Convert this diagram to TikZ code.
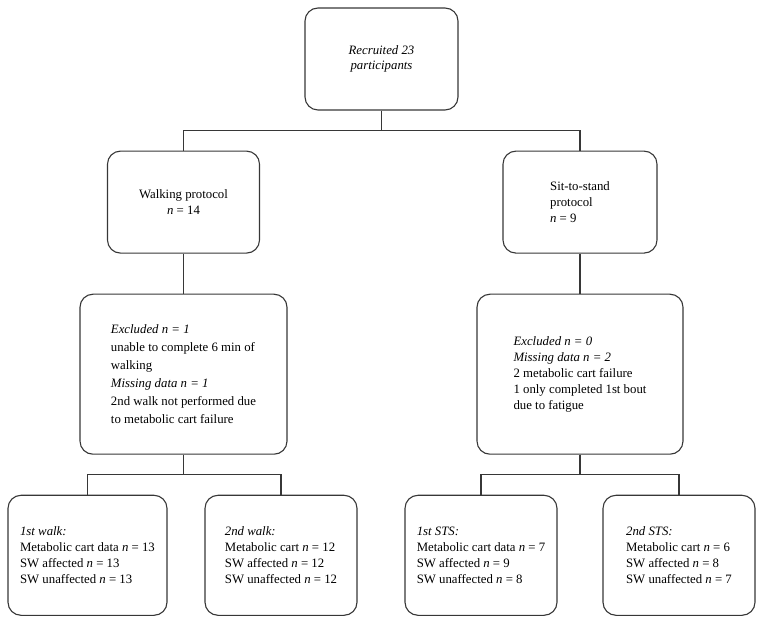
\documentclass[tikz,border=0pt]{standalone}
\usepackage{fontspec}
\setmainfont{Liberation Serif}
\usepackage{tikz}
\usetikzlibrary{positioning}
\definecolor{linegray}{RGB}{55,55,55}

\begin{document}
\begin{tikzpicture}[
  x=1pt, y=1pt,
  box/.style={rectangle, draw=linegray, line width=1.1pt, rounded corners=13pt, minimum width=152pt, minimum height=102pt, align=center, inner sep=4pt, font=\fontsize{12.8}{16}\selectfont},
  leftbox/.style={box, align=left},
  link/.style={draw=linegray, line width=1.1pt},
  node distance=40pt
]
\useasboundingbox (0,0) rectangle (764,-620);

\node[box, minimum width=153pt, font=\fontsize{12.8}{15}\selectfont] (recruit) at (381.5,-59) {\textit{Recruited 23}\\\textit{participants}};
\node[box, below=of recruit, xshift=-198pt] (walk) {Walking protocol\\\textit{n} = 14};
\node[leftbox, minimum width=154pt, below=of recruit, xshift=198.5pt] (sts) {Sit-to-stand\\protocol\\\textit{n} = 9};

\node[leftbox, minimum width=207pt, minimum height=160pt, below=of walk, font=\fontsize{12.8}{18}\selectfont] (walkex) {\textit{Excluded n = 1}\\unable to complete 6 min of\\walking\\\textit{Missing data n = 1}\\2nd walk not performed due\\to metabolic cart failure};
\node[leftbox, minimum width=206pt, minimum height=160pt, below=of sts] (stsex) {\textit{Excluded n = 0}\\\textit{Missing data n = 2}\\2 metabolic cart failure\\1 only completed 1st bout\\due to fatigue};

\node[leftbox, minimum width=159pt, minimum height=120pt, below=of walkex, xshift=-96pt] (walk1) {\textit{1st walk:}\\Metabolic cart data \textit{n} = 13\\SW affected \textit{n} = 13\\SW unaffected \textit{n} = 13};
\node[leftbox, minimum height=120pt, below=of walkex, xshift=97.5pt] (walk2) {\textit{2nd walk:}\\Metabolic cart \textit{n} = 12\\SW affected \textit{n} = 12\\SW unaffected \textit{n} = 12};
\node[leftbox, minimum height=120pt, below=of stsex, xshift=-99pt] (sts1) {\textit{1st STS:}\\Metabolic cart data \textit{n} = 7\\SW affected \textit{n} = 9\\SW unaffected \textit{n} = 8};
\node[leftbox, minimum height=120pt, below=of stsex, xshift=99pt] (sts2) {\textit{2nd STS:}\\Metabolic cart \textit{n} = 6\\SW affected \textit{n} = 8\\SW unaffected \textit{n} = 7};

% tree links
\draw[link] (recruit.south) -- ++(0,-20) -| (walk.north);
\draw[link] (recruit.south) -- ++(0,-20) -| (sts.north);
\draw[link] (walk) -- (walkex);
\draw[link] (sts) -- (stsex);
\draw[link] (walkex.south) -- ++(0,-20) -| (walk1.north);
\draw[link] (walkex.south) -- ++(0,-20) -| (walk2.north);
\draw[link] (stsex.south) -- ++(0,-20) -| (sts1.north);
\draw[link] (stsex.south) -- ++(0,-20) -| (sts2.north);
\end{tikzpicture}
\end{document}
